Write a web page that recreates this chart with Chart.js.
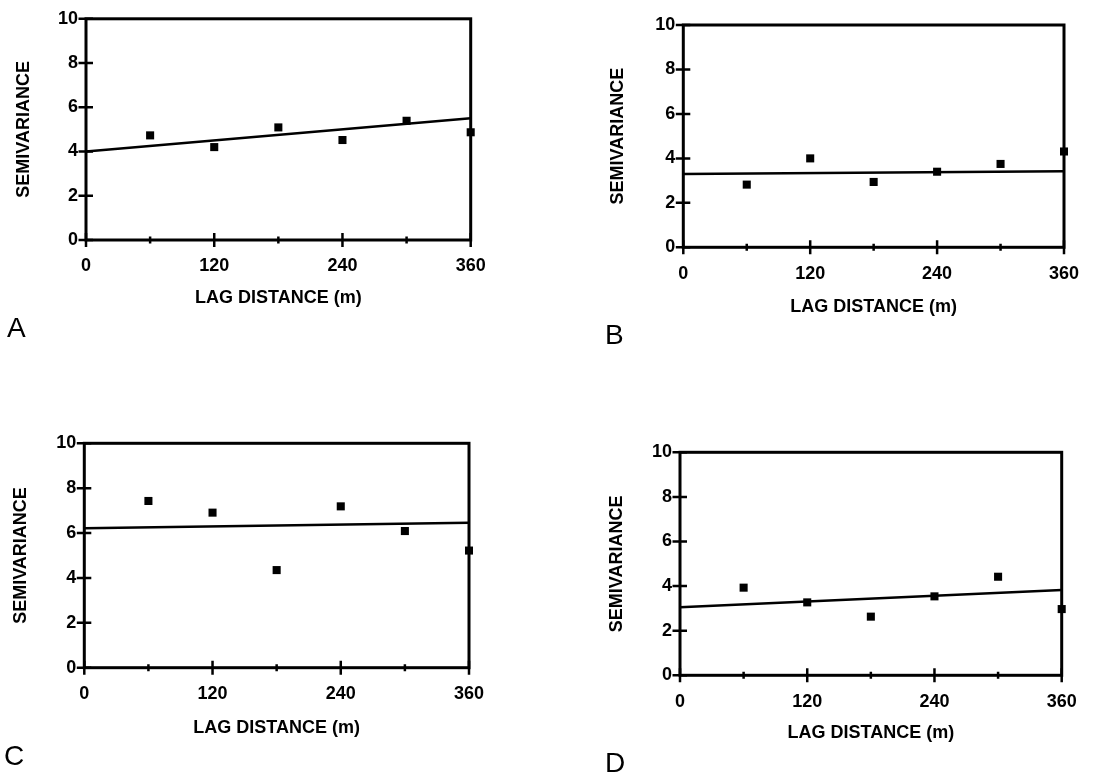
<!doctype html>
<html>

<head>
    <title>Semivariogramas</title>
    <script src="https://cdn.jsdelivr.net/npm/chart.js"></script>
    <style>
        body { margin: 0; background: #fff; width: 1120px; height: 773px; overflow: hidden; }
        .painel { position: absolute; }
        .letra { position: absolute; font: 28px "Liberation Sans", Arial, sans-serif; line-height: 1; color: #000; }
    </style>
</head>

<body>
    <div class="painel" style="left: 0; top: 0;"><canvas id="graficoA" width="560" height="386"></canvas></div>
    <div class="painel" style="left: 560px; top: 0;"><canvas id="graficoB" width="560" height="386"></canvas></div>
    <div class="painel" style="left: 0; top: 386px;"><canvas id="graficoC" width="560" height="387"></canvas></div>
    <div class="painel" style="left: 560px; top: 386px;"><canvas id="graficoD" width="560" height="387"></canvas></div>

    <div class="letra" style="left: 7px; top: 313.6px;">A</div>
    <div class="letra" style="left: 605px; top: 320.6px;">B</div>
    <div class="letra" style="left: 4px; top: 741.5px;">C</div>
    <div class="letra" style="left: 605px; top: 748.6px;">D</div>

    <script>
        // distancias (m) dos pontos e valores lidos em cada painel
        var distancias = [60, 120, 180, 240, 300, 360];
        var semivarA = [4.73, 4.2, 5.09, 4.52, 5.39, 4.87];
        var semivarB = [2.82, 4.0, 2.94, 3.4, 3.75, 4.31];
        var semivarC = [7.43, 6.91, 4.35, 7.19, 6.09, 5.22];
        var semivarD = [3.93, 3.27, 2.63, 3.54, 4.42, 2.97];

        // retas ajustadas: valor em 0 m e em 360 m
        var extremos = [0, 360];
        var ajusteA = [4.0, 5.5];
        var ajusteB = [3.3, 3.42];
        var ajusteC = [6.21, 6.46];
        var ajusteD = [3.05, 3.83];

        var rotuloX = 'LAG DISTANCE (m)';
        var rotuloY = 'SEMIVARIANCE';

        var familia = '"Liberation Sans", Arial, sans-serif';
        var fonteTicks = { family: familia, size: 18, weight: 'bold' };
        var fonteTitulo = { family: familia, size: 18, weight: 'bold' };

        // area do grafico dentro de cada canvas (px)
        var caixaA = { esq: 86, dir: 470.7, topo: 16, base: 240, centroTituloY: 24, centroTituloX: 298 };
        var caixaB = { esq: 123.3, dir: 504, topo: 25, base: 247.3, centroTituloY: 58.3, centroTituloX: 307.3 };
        var caixaC = { esq: 84.3, dir: 469, topo: 57.3, base: 281.7, centroTituloY: 20.7, centroTituloX: 342.3 };
        var caixaD = { esq: 120, dir: 501.7, topo: 66.3, base: 289.3, centroTituloY: 56.7, centroTituloX: 347.3 };

        // moldura e marcas cruzando os eixos
        var moldura = {
            id: 'moldura',
            beforeDatasetsDraw: function (chart) {
                var ctx = chart.ctx;
                var a = chart.chartArea;
                var x = chart.scales.x;
                var y = chart.scales.y;
                ctx.save();
                ctx.strokeStyle = '#000';
                ctx.lineWidth = 3;
                ctx.strokeRect(a.left, a.top, a.right - a.left, a.bottom - a.top);
                ctx.lineWidth = 2.5;
                ctx.beginPath();
                y.ticks.forEach(function (t) {
                    var py = y.getPixelForValue(t.value);
                    ctx.moveTo(a.left - 7.5, py);
                    ctx.lineTo(a.left + 7, py);
                });
                x.ticks.forEach(function (t) {
                    var px = x.getPixelForValue(t.value);
                    var m = t.value % 120 === 0 ? 7 : 3.5;
                    ctx.moveTo(px, a.bottom - m);
                    ctx.lineTo(px, a.bottom + m);
                });
                ctx.stroke();
                ctx.restore();
            }
        };

        function criarGrafico(id, valores, ajuste, caixa) {
            var canvas = document.getElementById(id);
            var lh = fonteTitulo.size * 1.2;
            var larguraY = caixa.esq - (caixa.centroTituloY - lh / 2);
            var alturaX = caixa.centroTituloX + lh / 2 - caixa.base;

            return new Chart(canvas.getContext('2d'), {
                type: 'scatter',
                data: {
                    datasets: [{
                        data: distancias.map(function (d, i) { return { x: d, y: valores[i] }; }),
                        pointStyle: 'rect',
                        pointRadius: 5.7,
                        pointBackgroundColor: '#000',
                        pointBorderWidth: 0,
                        clip: false
                    }, {
                        data: extremos.map(function (d, i) { return { x: d, y: ajuste[i] }; }),
                        showLine: true,
                        borderColor: '#000',
                        borderWidth: 2.5,
                        pointRadius: 0,
                        clip: false
                    }]
                },
                options: {
                    responsive: false,
                    animation: false,
                    layout: {
                        padding: {
                            left: caixa.centroTituloY - lh / 2,
                            top: caixa.topo,
                            right: canvas.width - caixa.dir,
                            bottom: canvas.height - (caixa.centroTituloX + lh / 2)
                        }
                    },
                    plugins: {
                        legend: { display: false },
                        tooltip: { enabled: false }
                    },
                    scales: {
                        x: {
                            type: 'linear',
                            min: 0,
                            max: 360,
                            grid: { display: false, drawTicks: false },
                            border: { display: false },
                            ticks: {
                                stepSize: 60,
                                autoSkip: false,
                                maxRotation: 0,
                                padding: 15.5,
                                color: '#000',
                                font: fonteTicks,
                                callback: function (v) { return v % 120 === 0 ? String(v) : ''; }
                            },
                            title: { display: true, text: rotuloX, color: '#000', font: fonteTitulo, padding: 0 },
                            afterFit: function (s) { s.height = alturaX; }
                        },
                        y: {
                            min: 0,
                            max: 10,
                            grid: { display: false, drawTicks: false },
                            border: { display: false },
                            ticks: {
                                stepSize: 2,
                                padding: 8,
                                color: '#000',
                                font: fonteTicks
                            },
                            title: { display: true, text: rotuloY, color: '#000', font: fonteTitulo, padding: 0 },
                            afterFit: function (s) { s.width = larguraY; }
                        }
                    }
                },
                plugins: [moldura]
            });
        }

        criarGrafico('graficoA', semivarA, ajusteA, caixaA);
        criarGrafico('graficoB', semivarB, ajusteB, caixaB);
        criarGrafico('graficoC', semivarC, ajusteC, caixaC);
        criarGrafico('graficoD', semivarD, ajusteD, caixaD);
    </script>
</body>

</html>
